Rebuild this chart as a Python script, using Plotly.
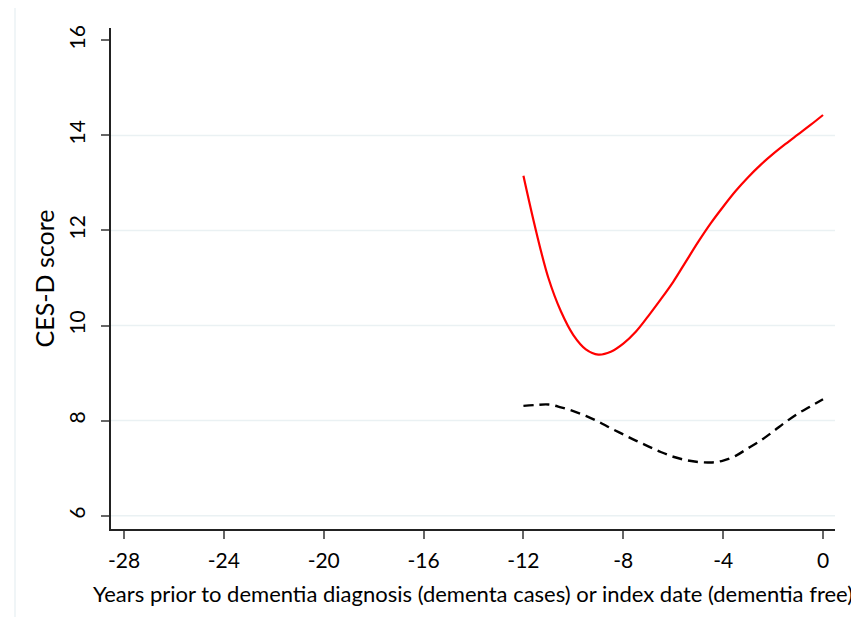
import plotly.graph_objects as go

years = [-12, -11.5, -11, -10.5, -10, -9.5, -9, -8.5, -8, -7.5, -7, -6.5, -6,
         -5.5, -5, -4.5, -4, -3.5, -3, -2.5, -2, -1.5, -1, -0.5, 0]
cases = [13.15, 12.0, 11.0, 10.3, 9.8, 9.5, 9.39, 9.45, 9.62, 9.87, 10.2, 10.55, 10.92,
         11.34, 11.76, 12.15, 12.5, 12.83, 13.12, 13.38, 13.61, 13.82, 14.02, 14.22, 14.43]
free = [8.31, 8.33, 8.34, 8.28, 8.2, 8.1, 7.98, 7.84, 7.71, 7.58, 7.46, 7.34, 7.24,
        7.17, 7.13, 7.12, 7.16, 7.26, 7.42, 7.58, 7.77, 7.97, 8.15, 8.3, 8.45]

x_ticks = [-28, -24, -20, -16, -12, -8, -4, 0]
y_ticks = [6, 8, 10, 12, 14, 16]
grid_values = [6, 8, 10, 12, 14]

FONT = "Lato, Open Sans, sans-serif"

fig = go.Figure()
fig.add_trace(go.Scatter(x=years, y=cases, mode="lines",
                         line=dict(color="#ff0000", width=2.2, shape="spline", smoothing=1.0),
                         showlegend=False))
fig.add_trace(go.Scatter(x=years, y=free, mode="lines",
                         line=dict(color="#000000", width=2.4, dash="10px,6px", shape="spline", smoothing=1.0),
                         showlegend=False))

shapes = []
for g in grid_values:
    shapes.append(dict(type="line", xref="paper", x0=0, x1=1, yref="y", y0=g, y1=g,
                       line=dict(color="#eaf1f3", width=1.5), layer="below"))
# outer frame
shapes.append(dict(type="rect", xref="paper", yref="paper", x0=-0.1326, x1=1.029, y0=-0.2, y1=1.0439,
                   line=dict(color="#e6eef2", width=1.2), layer="below"))

fig.update_layout(
    width=851, height=609,
    margin=dict(l=103, r=24, t=20, b=88, autoexpand=False),
    paper_bgcolor="white", plot_bgcolor="white",
    font=dict(family=FONT, color="#000000"),
    shapes=shapes,
    xaxis=dict(range=[-28.52, 0.48], tickvals=x_ticks, ticktext=[str(v) for v in x_ticks],
               automargin=False,
               showgrid=False, zeroline=False, showline=True, linecolor="#222", linewidth=1.5,
               ticks="outside", ticklen=8, tickwidth=1.5, tickcolor="#666",
               ticklabelstandoff=4,
               tickfont=dict(size=21, family=FONT),
               title=dict(text="Years prior to dementia diagnosis (dementa cases) or index date (dementia free)",
                          font=dict(size=22, family=FONT), standoff=16)),
    yaxis=dict(range=[5.72, 16.26], tickvals=y_ticks, ticktext=[str(v) for v in y_ticks],
               automargin=False,
               showgrid=False, zeroline=False, showline=True, linecolor="#222", linewidth=1.5,
               ticks="outside", ticklen=8, tickwidth=1.5, tickcolor="#666", tickangle=-90,
               ticklabelstandoff=8,
               tickfont=dict(size=21, family=FONT),
               title=dict(text="CES-D score", font=dict(size=25, family=FONT), standoff=2)),
)

fig.write_html("out.html")
